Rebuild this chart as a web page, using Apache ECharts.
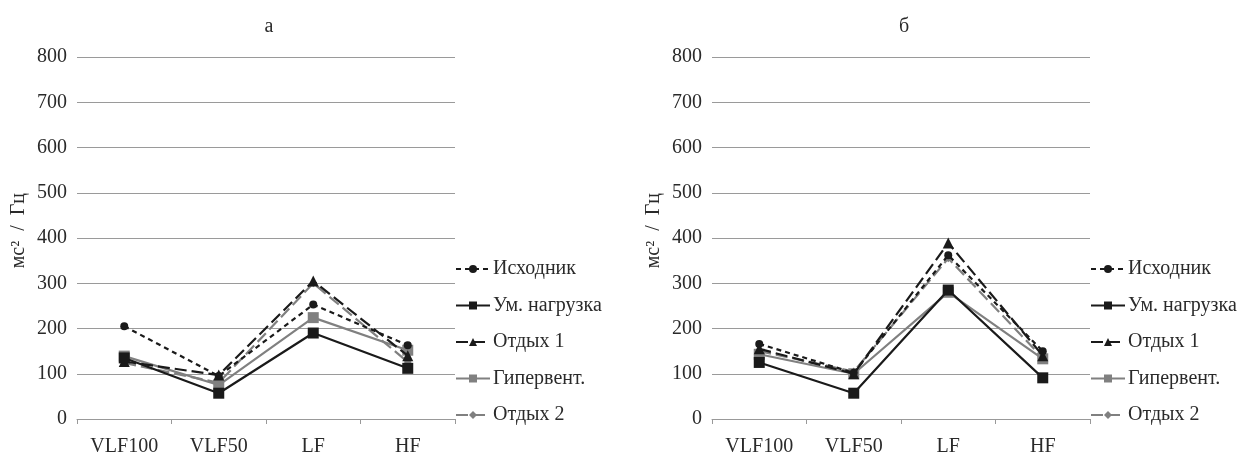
<!DOCTYPE html>
<html><head><meta charset="utf-8">
<script src="https://cdn.jsdelivr.net/npm/echarts@6/dist/echarts.min.js"></script>
<style>html,body{margin:0;padding:0;background:#fff}#c{width:1260px;height:454px}</style>
</head><body><div id="c"></div>
<script>
const categories = ['VLF100', 'VLF50', 'LF', 'HF'];
const seriesNames = ['Исходник', 'Ум. нагрузка', 'Отдых 1', 'Гипервент.', 'Отдых 2'];
// Chart а
const a_ish = [205, 95, 253, 163];
const a_um = [135, 57, 190, 112];
const a_otd1 = [127, 97, 305, 140];
const a_gip = [139, 75, 224, 152];
const a_otd2 = [124, 80, 300, 126];
// Chart б
const b_ish = [166, 102, 362, 150];
const b_um = [125, 57, 285, 91];
const b_otd1 = [155, 100, 389, 140];
const b_gip = [143, 100, 280, 133];
const b_otd2 = [150, 105, 355, 135];
const yTicks = {min: 0, max: 800, interval: 100};
const titles = ['а', 'б'];
const yName = 'мс²  /  Гц';

const FONT = 'Liberation Serif';
const TXT = '#2a2a2a';
const BLACK = '#1a1a1a', GRAY = '#808080';
const styles = [
  {color: BLACK, type: [5, 4], symbol: 'circle', size: 8},
  {color: BLACK, type: 'solid', symbol: 'rect', size: 11},
  {color: BLACK, type: [12, 5], symbol: 'triangle', size: 11},
  {color: GRAY, type: 'solid', symbol: 'rect', size: 11},
  {color: GRAY, type: [12, 5], symbol: 'diamond', size: 8}
];
const dataA = [a_ish, a_um, a_otd1, a_gip, a_otd2];
const dataB = [b_ish, b_um, b_otd1, b_gip, b_otd2];

const grids = [
  {left: 77, width: 378, top: 57, height: 362, outerBoundsMode: 'none', containLabel: false},
  {left: 712, width: 378, top: 57, height: 362, outerBoundsMode: 'none', containLabel: false}
];
function xAxis(i){return {type:'category', gridIndex:i, data:categories, boundaryGap:true,
  axisLine:{lineStyle:{color:'#999', width:1}}, axisTick:{show:true, length:5, lineStyle:{color:'#999'}},
  axisLabel:{color:TXT, fontFamily:FONT, fontSize:20, margin:18}};}
function yAxis(i){return {type:'value', gridIndex:i, min:yTicks.min, max:yTicks.max, interval:yTicks.interval,
  axisLine:{show:false}, axisTick:{show:false},
  splitLine:{lineStyle:{color:'#9a9a9a', width:1}},
  axisLabel:{color:TXT, fontFamily:FONT, fontSize:20, margin:10}};}
const series = [];
[dataA, dataB].forEach((d, gi) => {
  d.forEach((vals, si) => {
    const s = styles[si];
    series.push({name: seriesNames[si], type:'line', xAxisIndex:gi, yAxisIndex:gi, data:vals,
      symbol:s.symbol, symbolSize:s.size, showSymbol:true,
      lineStyle:{color:s.color, width:2.2, type:s.type},
      itemStyle:{color:s.color}, z: 10 - si, animation:false});
  });
});
function legend(left){return {left:left, top:254, orient:'vertical', itemGap:16.5, itemWidth:34, itemHeight:10,
  data: seriesNames, textStyle:{color:TXT, fontFamily:FONT, fontSize:20, lineHeight:20, padding:[0,0,0,-2]},
  selectedMode:false};}
function yNameText(x){return {type:'text', left:x, top:193, rotation:Math.PI/2,
  style:{text:yName, fontFamily:FONT, fontSize:20, fill:TXT}};}
const chart = echarts.init(document.getElementById('c'));
chart.setOption({
  animation:false,
  title: [
    {text: titles[0], left: 264, top: 12, textAlign:'center', textStyle:{fontFamily:FONT, fontSize:20, fontWeight:'normal', color:TXT}},
    {text: titles[1], left: 899, top: 12, textAlign:'center', textStyle:{fontFamily:FONT, fontSize:20, fontWeight:'normal', color:TXT}}
  ],
  grid: grids,
  xAxis: [xAxis(0), xAxis(1)],
  yAxis: [yAxis(0), yAxis(1)],
  legend: [legend(450), legend(1085)],
  graphic: [yNameText(9), yNameText(644)],
  series: series
});
</script></body></html>
